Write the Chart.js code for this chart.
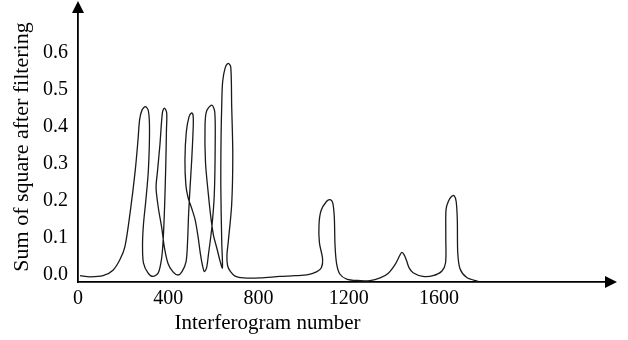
<!DOCTYPE html>
<html>
<head>
<meta charset="utf-8">
<script src="https://cdn.jsdelivr.net/npm/chart.js@4.4.0/dist/chart.umd.min.js"></script>
<style>
    html, body { margin: 0; padding: 0; background: #fff; }
    #wrap { width: 628px; height: 340px; position: relative; }
</style>
</head>
<body>
<div id="wrap"><canvas id="filterChart"></canvas></div>
<script>
// traced curve, in path order (the curve loops back on itself)
const interferogram = [
    9, 53, 111, 155, 186, 208, 231, 253, 266, 273, 284, 299, 312, 317, 312, 301, 290, 286, 290, 310,
    332, 356, 371, 378, 384, 389, 392, 393, 383, 374, 363, 352, 346, 356, 371, 383, 399, 420, 443,
    461, 479, 486, 490, 496, 504, 511, 510, 504, 492, 480, 474, 478, 488, 503, 519, 532, 543, 552, 560,
    570, 578, 593, 604, 608, 606, 593, 570, 563, 565, 578, 590, 601, 616, 629, 640,
    637, 633, 634, 637, 641, 652, 666, 677, 681, 686, 681, 666, 660, 663, 676, 696, 734, 807,
    895, 962, 1020, 1059, 1079, 1084, 1070, 1068, 1077, 1101, 1118, 1129, 1136, 1139, 1146, 1161, 1191,
    1237, 1294, 1339, 1374, 1405, 1427, 1435, 1445, 1456, 1467, 1485, 1529, 1574,
    1612, 1629, 1630, 1631, 1641, 1656, 1667, 1676, 1681, 1683, 1693, 1723, 1773
];
const sumSquare = [
    -0.003, -0.006, -0.003, 0.012, 0.041, 0.076, 0.168, 0.278, 0.365, 0.419, 0.446, 0.455, 0.443, 0.392, 0.284, 0.203, 0.135, 0.081, 0.032, 0.005,
    -0.005, 0.005, 0.046, 0.100, 0.189, 0.297, 0.392, 0.438, 0.451, 0.438, 0.351, 0.278, 0.235, 0.181, 0.127, 0.073, 0.030, 0.008, -0.001,
    0.008, 0.035, 0.095, 0.162, 0.230, 0.311, 0.405, 0.432, 0.438, 0.427, 0.386, 0.311, 0.243, 0.208, 0.181, 0.149, 0.103, 0.054, 0.024, 0.008,
    0.019, 0.054, 0.127, 0.216, 0.351, 0.441, 0.459, 0.443, 0.405, 0.305, 0.216, 0.149, 0.105, 0.070, 0.038, 0.018,
    0.089, 0.235, 0.370, 0.459, 0.522, 0.559, 0.572, 0.562, 0.459, 0.324, 0.189, 0.089, 0.051, 0.024, 0.008, -0.004, -0.009, -0.009,
    -0.005, -0.003, 0.000, 0.008, 0.019, 0.043, 0.086, 0.135, 0.173, 0.198, 0.203, 0.194, 0.154, 0.081, 0.030, 0.001, -0.012,
    -0.016, -0.016, -0.009, 0.003, 0.027, 0.053, 0.060, 0.054, 0.038, 0.019, 0.005, -0.005, -0.003,
    0.009, 0.032, 0.103, 0.176, 0.198, 0.212, 0.214, 0.198, 0.149, 0.059, 0.016, -0.008, -0.018
];
const xTicks = [0, 400, 800, 1200, 1600];
const yTicks = [0, 0.1, 0.2, 0.3, 0.4, 0.5, 0.6];
const xLabel = 'Interferogram number';
const yLabel = 'Sum of square after filtering';

const serif = '"Liberation Serif", "DejaVu Serif", serif';
const points = interferogram.map((x, i) => ({ x: x, y: sumSquare[i] }));

// arrow heads on both axes and the x axis title (it sits off-centre in the original)
const axisArrows = {
    id: 'axisArrows',
    afterDraw(chart) {
        const { ctx, chartArea, scales } = chart;
        ctx.save();
        ctx.fillStyle = '#000';

        ctx.beginPath();
        ctx.moveTo(chartArea.left, chartArea.top - 11);
        ctx.lineTo(chartArea.left - 6, chartArea.top + 1);
        ctx.lineTo(chartArea.left + 6, chartArea.top + 1);
        ctx.closePath();
        ctx.fill();

        ctx.beginPath();
        ctx.moveTo(chartArea.right + 11, chartArea.bottom);
        ctx.lineTo(chartArea.right - 1, chartArea.bottom - 6);
        ctx.lineTo(chartArea.right - 1, chartArea.bottom + 6);
        ctx.closePath();
        ctx.fill();

        ctx.font = '21px ' + serif;
        ctx.textAlign = 'center';
        ctx.textBaseline = 'middle';
        ctx.fillText(xLabel, scales.x.getPixelForValue(840), 323);
        ctx.restore();
    }
};

// drop the extra room chart.js keeps for end labels
function noEdgePadding(s) {
    s.paddingTop = 0;
    s.paddingBottom = 0;
    s.paddingLeft = 0;
    s.paddingRight = 0;
}

new Chart(document.getElementById('filterChart'), {
    type: 'scatter',
    data: {
        datasets: [{
            data: points,
            showLine: true,
            borderColor: '#1a1a1a',
            borderWidth: 1.3,
            pointRadius: 0,
            tension: 0.3,
            fill: false
        }]
    },
    options: {
        responsive: true,
        maintainAspectRatio: false,
        animation: false,
        layout: { padding: { top: 12, right: 22, left: 0, bottom: 0 } },
        plugins: { legend: { display: false }, tooltip: { enabled: false } },
        scales: {
            x: {
                type: 'linear',
                min: 0,
                max: 2340,
                afterBuildTicks: s => { s.ticks = xTicks.map(v => ({ value: v })); },
                afterFit: s => { s.height = 58; noEdgePadding(s); },
                grid: { display: false, drawTicks: false },
                border: { display: true, color: '#000', width: 1.8 },
                ticks: {
                    color: '#000',
                    font: { family: serif, size: 20 },
                    padding: 5,
                    maxRotation: 0,
                    callback: v => String(v)
                }
            },
            y: {
                type: 'linear',
                min: -0.02,
                max: 0.711,
                afterBuildTicks: s => { s.ticks = yTicks.map(v => ({ value: v })); },
                afterFit: s => { s.width = 78; noEdgePadding(s); },
                grid: { display: false, drawTicks: false },
                border: { display: true, color: '#000', width: 1.8 },
                ticks: {
                    color: '#000',
                    font: { family: serif, size: 20 },
                    padding: 10,
                    callback: v => v.toFixed(1)
                },
                title: {
                    display: true,
                    text: yLabel,
                    color: '#000',
                    font: { family: serif, size: 22 },
                    padding: { top: 9, bottom: 0 }
                }
            }
        }
    },
    plugins: [axisArrows]
});
</script>
</body>
</html>
